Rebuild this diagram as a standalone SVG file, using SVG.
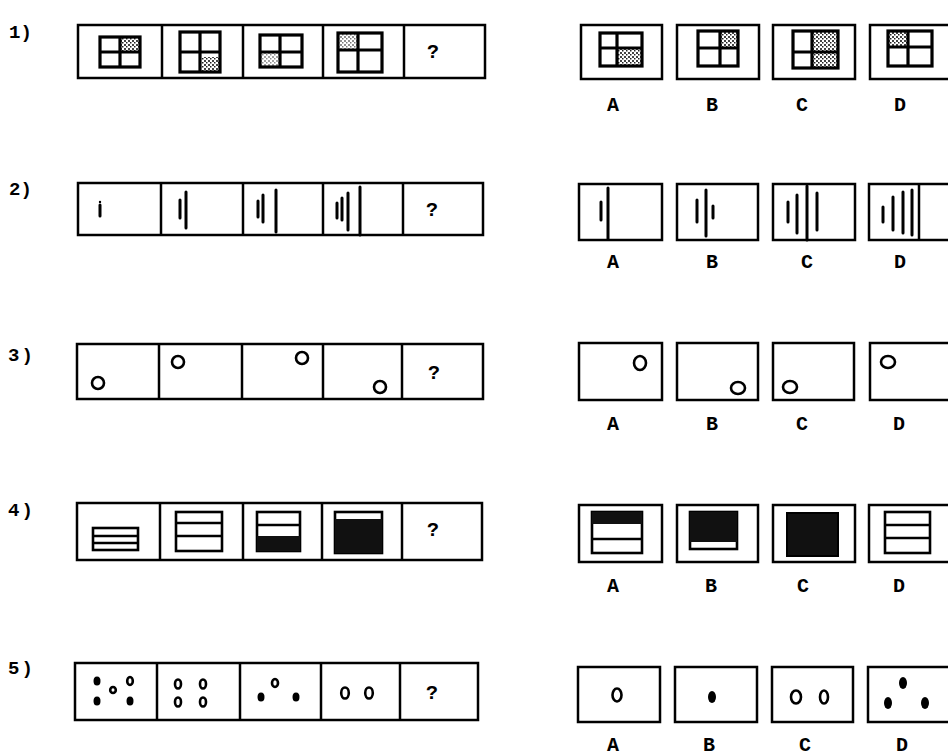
<svg xmlns="http://www.w3.org/2000/svg" width="948" height="756" viewBox="0 0 948 756">
<style>
.bx{fill:none;stroke:#000;stroke-width:2.5}
.ln{stroke:#000;stroke-width:2.5;fill:none}
.st{stroke:#000;stroke-width:3;stroke-linecap:round}
.gr{fill:none;stroke:#000;stroke-width:3.2}
.sh{fill:url(#stip)}
.ring{fill:none;stroke:#000;stroke-width:2.6}
.dot{fill:#000}
.blk{fill:#111}
.ir{fill:#fff;stroke:#000;stroke-width:2.6}
.num{font-family:"Liberation Mono",monospace;font-weight:bold;font-size:19px;fill:#000}
.lab{font-family:"Liberation Mono",monospace;font-weight:bold;font-size:20px;fill:#000;text-anchor:middle}
.q{font-family:"Liberation Mono",monospace;font-weight:bold;font-size:20px;fill:#000;text-anchor:middle}
</style>
<defs>
<pattern id="stip" width="4" height="4" patternUnits="userSpaceOnUse">
<rect width="4" height="4" fill="#fff"/>
<rect x="0" y="0" width="2" height="2" fill="#444"/>
<rect x="2" y="2" width="1.5" height="1.5" fill="#222"/>
</pattern>
</defs>
<rect width="948" height="756" fill="#fff"/>

<!-- Row 1 -->
<g id="row1">
<text class="num" x="9" y="38">1)</text>
<g id="r1-strip">
<rect class="bx" x="78" y="25" width="407" height="53"/>
<line class="ln" x1="162" y1="25" x2="162" y2="78"/>
<line class="ln" x1="243" y1="25" x2="243" y2="78"/>
<line class="ln" x1="323" y1="25" x2="323" y2="78"/>
<line class="ln" x1="404" y1="25" x2="404" y2="78"/>
<rect class="sh" x="120" y="37" width="20" height="15"/>
<rect class="gr" x="100" y="37" width="40" height="30"/><line class="gr" x1="120" y1="37" x2="120" y2="67"/><line class="gr" x1="100" y1="52" x2="140" y2="52"/>
<rect class="sh" x="202" y="57" width="17" height="14"/>
<rect class="gr" x="180" y="32" width="40" height="40"/><line class="gr" x1="200" y1="32" x2="200" y2="72"/><line class="gr" x1="180" y1="52" x2="220" y2="52"/>
<rect class="sh" x="260" y="52" width="20" height="15" opacity="0.5"/>
<rect class="gr" x="260" y="35" width="42" height="32"/><line class="gr" x1="280" y1="35" x2="280" y2="67"/><line class="gr" x1="260" y1="52" x2="302" y2="52"/>
<rect class="sh" x="338" y="33" width="20" height="17" opacity="0.6"/>
<rect class="gr" x="338" y="33" width="44" height="39"/><line class="gr" x1="358" y1="33" x2="358" y2="72"/><line class="gr" x1="338" y1="50" x2="382" y2="50"/>
<text class="q" x="433" y="58">?</text>
</g>
<g id="r1-A">
<rect class="bx" x="581" y="25" width="81" height="54"/>
<rect class="sh" x="617" y="48" width="25" height="18"/>
<rect class="gr" x="600" y="33" width="42" height="33"/><line class="gr" x1="617" y1="33" x2="617" y2="66"/><line class="gr" x1="600" y1="48" x2="642" y2="48"/>
<text class="lab" x="613" y="111">A</text>
</g>
<g id="r1-B">
<rect class="bx" x="677" y="25" width="82" height="54"/>
<rect class="sh" x="720" y="31" width="18" height="17"/>
<rect class="gr" x="698" y="31" width="40" height="35"/><line class="gr" x1="720" y1="31" x2="720" y2="66"/><line class="gr" x1="698" y1="48" x2="738" y2="48"/>
<text class="lab" x="712" y="111">B</text>
</g>
<g id="r1-C">
<rect class="bx" x="773" y="25" width="82" height="54"/>
<rect class="sh" x="812" y="31" width="26" height="37"/>
<rect class="gr" x="793" y="31" width="45" height="37"/><line class="gr" x1="812" y1="31" x2="812" y2="68"/><line class="gr" x1="793" y1="52" x2="838" y2="52"/>
<text class="lab" x="802" y="111">C</text>
</g>
<g id="r1-D">
<rect class="bx" x="870" y="25" width="90" height="54"/>
<rect class="sh" x="888" y="31" width="20" height="16"/>
<rect class="gr" x="888" y="31" width="44" height="35"/><line class="gr" x1="908" y1="31" x2="908" y2="66"/><line class="gr" x1="888" y1="47" x2="932" y2="47"/>
<text class="lab" x="900" y="111">D</text>
</g>
</g>

<!-- Row 2 -->
<g id="row2">
<text class="num" x="9" y="195">2)</text>
<g id="r2-strip">
<rect class="bx" x="78" y="183" width="405" height="52"/>
<line class="ln" x1="161" y1="183" x2="161" y2="235"/>
<line class="ln" x1="243" y1="183" x2="243" y2="235"/>
<line class="ln" x1="323" y1="183" x2="323" y2="235"/>
<line class="ln" x1="403" y1="183" x2="403" y2="235"/>
<line class="st" x1="100" y1="205" x2="100" y2="216"/><circle class="dot" cx="100" cy="202" r="1.2"/>
<line class="st" x1="180" y1="200" x2="180" y2="218"/><line class="st" x1="186" y1="192" x2="186" y2="228"/>
<line class="st" x1="258" y1="201" x2="258" y2="217"/><line class="st" x1="263" y1="195" x2="263" y2="222"/><line class="st" x1="276" y1="190" x2="276" y2="232"/>
<line class="st" x1="337" y1="203" x2="337" y2="218"/><line class="st" x1="342" y1="198" x2="342" y2="220"/><line class="st" x1="348" y1="193" x2="348" y2="230"/><line class="st" x1="360" y1="187" x2="360" y2="235"/>
<text class="q" x="432" y="216">?</text>
</g>
<g id="r2-A">
<rect class="bx" x="579" y="184" width="83" height="56"/>
<line class="st" x1="601" y1="202" x2="601" y2="220"/><line class="st" x1="608" y1="188" x2="608" y2="239"/>
<text class="lab" x="613" y="268">A</text>
</g>
<g id="r2-B">
<rect class="bx" x="677" y="184" width="81" height="56"/>
<line class="st" x1="697" y1="200" x2="697" y2="222"/><line class="st" x1="706" y1="190" x2="706" y2="236"/><line class="st" x1="713" y1="206" x2="713" y2="218"/>
<text class="lab" x="712" y="268">B</text>
</g>
<g id="r2-C">
<rect class="bx" x="773" y="184" width="82" height="56"/>
<line class="st" x1="788" y1="202" x2="788" y2="222"/><line class="st" x1="797" y1="195" x2="797" y2="233"/><line class="st" x1="807" y1="186" x2="807" y2="240"/><line class="st" x1="817" y1="193" x2="817" y2="230"/>
<text class="lab" x="807" y="268">C</text>
</g>
<g id="r2-D">
<rect class="bx" x="869" y="184" width="90" height="56"/>
<line class="st" x1="883" y1="207" x2="883" y2="222"/><line class="st" x1="893" y1="197" x2="893" y2="230"/><line class="st" x1="903" y1="192" x2="903" y2="233"/><line class="st" x1="912" y1="190" x2="912" y2="235"/>
<line class="ln" x1="919" y1="184" x2="919" y2="240"/>
<text class="lab" x="900" y="268">D</text>
</g>
</g>

<!-- Row 3 -->
<g id="row3">
<text class="num" x="8" y="361" letter-spacing="2">3)</text>
<g id="r3-strip">
<rect class="bx" x="77" y="344" width="406" height="55"/>
<line class="ln" x1="159" y1="344" x2="159" y2="399"/>
<line class="ln" x1="242" y1="344" x2="242" y2="399"/>
<line class="ln" x1="323" y1="344" x2="323" y2="399"/>
<line class="ln" x1="402" y1="344" x2="402" y2="399"/>
<circle class="ring" cx="98" cy="383" r="6"/>
<circle class="ring" cx="178" cy="362" r="6"/>
<circle class="ring" cx="302" cy="358" r="6"/>
<circle class="ring" cx="380" cy="387" r="6"/>
<text class="q" x="434" y="379">?</text>
</g>
<g id="r3-A">
<rect class="bx" x="579" y="343" width="83" height="57"/>
<ellipse class="ring" cx="640" cy="363" rx="6" ry="7"/>
<text class="lab" x="613" y="430">A</text>
</g>
<g id="r3-B">
<rect class="bx" x="677" y="343" width="81" height="57"/>
<ellipse class="ring" cx="738" cy="388" rx="7" ry="6"/>
<text class="lab" x="712" y="430">B</text>
</g>
<g id="r3-C">
<rect class="bx" x="773" y="343" width="81" height="57"/>
<ellipse class="ring" cx="790" cy="387" rx="7" ry="6"/>
<text class="lab" x="802" y="430">C</text>
</g>
<g id="r3-D">
<rect class="bx" x="870" y="343" width="90" height="57"/>
<ellipse class="ring" cx="888" cy="362" rx="7" ry="6"/>
<text class="lab" x="899" y="430">D</text>
</g>
</g>

<!-- Row 4 -->
<g id="row4">
<text class="num" x="8" y="516" letter-spacing="2">4)</text>
<g id="r4-strip">
<rect class="bx" x="77" y="503" width="405" height="57"/>
<line class="ln" x1="160" y1="503" x2="160" y2="560"/>
<line class="ln" x1="243" y1="503" x2="243" y2="560"/>
<line class="ln" x1="322" y1="503" x2="322" y2="560"/>
<line class="ln" x1="402" y1="503" x2="402" y2="560"/>
<rect class="ir" x="93" y="528" width="45" height="22"/><line class="ln" x1="93" y1="536" x2="138" y2="536"/><line class="ln" x1="93" y1="543" x2="138" y2="543"/>
<rect class="ir" x="176" y="512" width="46" height="39"/><line class="ln" x1="176" y1="523" x2="222" y2="523"/><line class="ln" x1="176" y1="536" x2="222" y2="536"/>
<rect class="ir" x="257" y="512" width="43" height="39"/><line class="ln" x1="257" y1="525" x2="300" y2="525"/><rect class="blk" x="257" y="536" width="43" height="15"/>
<rect class="ir" x="335" y="512" width="47" height="41"/><rect class="blk" x="335" y="519" width="47" height="34"/>
<text class="q" x="433" y="536">?</text>
</g>
<g id="r4-A">
<rect class="bx" x="579" y="505" width="83" height="57"/>
<rect class="ir" x="592" y="512" width="50" height="41"/><rect class="blk" x="592" y="512" width="50" height="12"/><line class="ln" x1="592" y1="539" x2="642" y2="539"/>
<text class="lab" x="613" y="592">A</text>
</g>
<g id="r4-B">
<rect class="bx" x="677" y="505" width="81" height="57"/>
<rect class="ir" x="690" y="512" width="47" height="37"/><rect class="blk" x="690" y="512" width="47" height="30"/>
<text class="lab" x="711" y="592">B</text>
</g>
<g id="r4-C">
<rect class="bx" x="773" y="505" width="82" height="57"/>
<rect class="blk" x="787" y="513" width="51" height="43" stroke="#000" stroke-width="2"/>
<text class="lab" x="803" y="592">C</text>
</g>
<g id="r4-D">
<rect class="bx" x="869" y="505" width="90" height="57"/>
<rect class="ir" x="885" y="512" width="45" height="41"/><line class="ln" x1="885" y1="525" x2="930" y2="525"/><line class="ln" x1="885" y1="538" x2="930" y2="538"/>
<text class="lab" x="899" y="592">D</text>
</g>
</g>

<!-- Row 5 -->
<g id="row5">
<text class="num" x="8" y="674" letter-spacing="2">5)</text>
<g id="r5-strip">
<rect class="bx" x="75" y="663" width="403" height="57"/>
<line class="ln" x1="157" y1="663" x2="157" y2="720"/>
<line class="ln" x1="240" y1="663" x2="240" y2="720"/>
<line class="ln" x1="321" y1="663" x2="321" y2="720"/>
<line class="ln" x1="400" y1="663" x2="400" y2="720"/>
<ellipse class="dot" cx="97" cy="681" rx="3.5" ry="4.5"/>
<ellipse class="ring" cx="113" cy="690" rx="2.8" ry="3"/>
<ellipse class="ring" cx="130" cy="681" rx="2.8" ry="4"/>
<ellipse class="dot" cx="97" cy="701" rx="3.5" ry="4.5"/>
<ellipse class="dot" cx="130" cy="701" rx="3.5" ry="4.5"/>
<ellipse class="ring" cx="178" cy="684" rx="3" ry="4.5"/>
<ellipse class="ring" cx="203" cy="684" rx="3" ry="4.5"/>
<ellipse class="ring" cx="178" cy="702" rx="3" ry="4.5"/>
<ellipse class="ring" cx="203" cy="702" rx="3" ry="4.5"/>
<ellipse class="ring" cx="275" cy="683" rx="3" ry="4"/>
<ellipse class="dot" cx="261" cy="697" rx="3.5" ry="4.5"/>
<ellipse class="dot" cx="296" cy="697" rx="3.5" ry="4.5"/>
<ellipse class="ring" cx="345" cy="693" rx="3.8" ry="5.5"/>
<ellipse class="ring" cx="369" cy="693" rx="3.8" ry="5.5"/>
<text class="q" x="432" y="699">?</text>
</g>
<g id="r5-A">
<rect class="bx" x="578" y="667" width="82" height="55"/>
<ellipse class="ring" cx="617" cy="695" rx="4.5" ry="6.5"/>
<text class="lab" x="613" y="751">A</text>
</g>
<g id="r5-B">
<rect class="bx" x="675" y="667" width="82" height="55"/>
<ellipse class="dot" cx="712" cy="697" rx="4" ry="6"/>
<text class="lab" x="709" y="751">B</text>
</g>
<g id="r5-C">
<rect class="bx" x="772" y="667" width="81" height="55"/>
<ellipse class="ring" cx="796" cy="697" rx="5" ry="6.5"/>
<ellipse class="ring" cx="824" cy="697" rx="4" ry="6.5"/>
<text class="lab" x="805" y="751">C</text>
</g>
<g id="r5-D">
<rect class="bx" x="868" y="667" width="92" height="55"/>
<ellipse class="dot" cx="903" cy="683" rx="4" ry="6"/>
<ellipse class="dot" cx="888" cy="703" rx="4" ry="6"/>
<ellipse class="dot" cx="925" cy="703" rx="4" ry="6"/>
<text class="lab" x="902" y="751">D</text>
</g>
</g>
</svg>
